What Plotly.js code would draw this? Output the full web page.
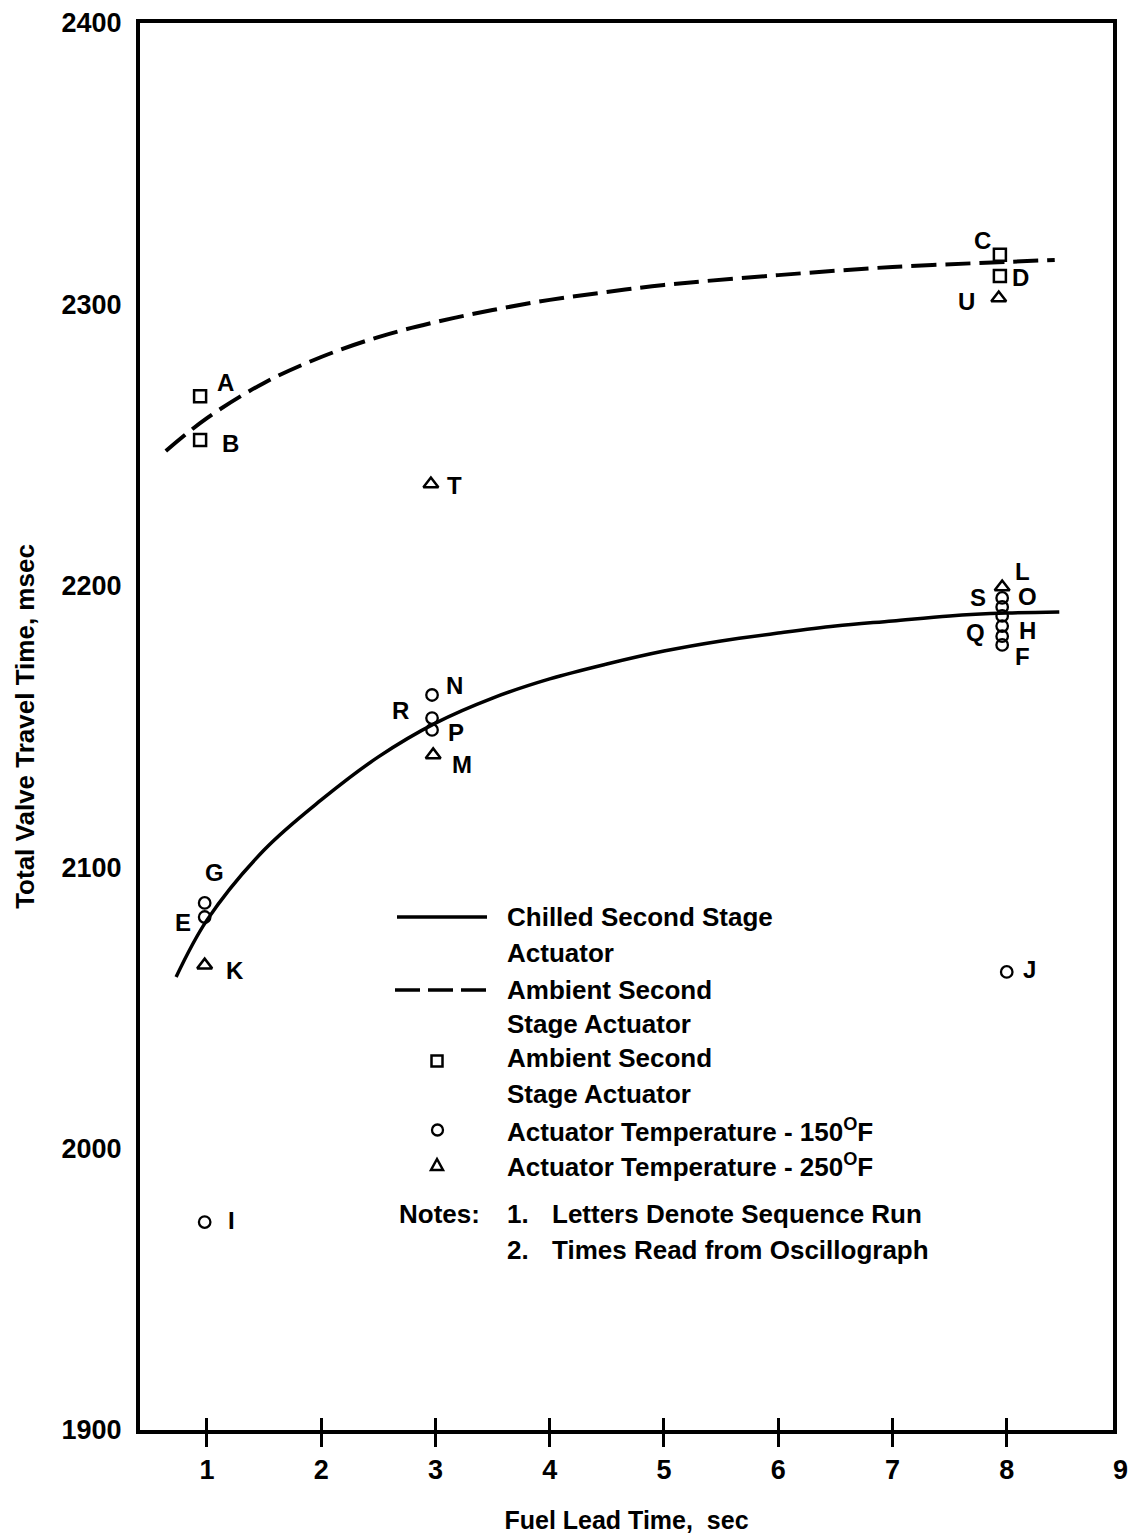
<!DOCTYPE html>
<html>
<head>
<meta charset="utf-8">
<script src="https://cdn.plot.ly/plotly-3.0.1.min.js"></script>
<style>
html,body{margin:0;padding:0;background:#fff;}
#chart{width:1129px;height:1538px;}
</style>
</head>
<body>
<div id="chart"></div>
<script>
// ---------------- data ----------------
const xTickVals = [1, 2, 3, 4, 5, 6, 7, 8];
const xTickText = ['1', '2', '3', '4', '5', '6', '7', '8'];
const yTickVals = [1900, 2000, 2100, 2200, 2300, 2400];
const yTickText = ['1900', '2000', '2100', '2200', '2300', '2400'];

// faired curves
const chilledX = [0.73, 1.0, 1.5, 2.0, 2.5, 3.0, 3.5, 4.0, 4.5, 5.0, 5.5, 6.0, 6.5, 7.0, 7.5, 8.0, 8.46];
const chilledY = [2061.0, 2081.2, 2106.1, 2123.9, 2139.2, 2151.2, 2160.1, 2166.9, 2172.2, 2176.8, 2180.4, 2183.2, 2185.7, 2187.5, 2189.3, 2190.3, 2190.7];
const ambientX = [0.64, 1.0, 1.5, 2.0, 2.5, 3.0, 3.5, 4.0, 4.5, 5.0, 6.0, 7.0, 8.0, 8.42];
const ambientY = [2247.9, 2259.6, 2272.1, 2281.3, 2288.4, 2293.7, 2298.0, 2301.6, 2304.4, 2306.9, 2310.4, 2313.3, 2315.1, 2315.8];

// ambient second stage actuator (squares)
const squareX = [0.94, 0.94, 7.94, 7.94];
const squareY = [2267.4, 2251.8, 2317.6, 2310.1];
const squareLabels = ['A', 'B', 'C', 'D'];

// actuator temperature 250 F (triangles)
const triangleX = [2.96, 7.93, 7.96, 2.98, 0.98];
const triangleY = [2236.2, 2302.3, 2199.6, 2139.9, 2065.2];
const triangleLabels = ['T', 'U', 'L', 'M', 'K'];

// actuator temperature 150 F (circles)
const circleX = [2.97, 2.97, 2.97, 0.98, 0.98, 0.98, 8.0, 7.96, 7.96, 7.96, 7.96, 7.96, 7.96];
const circleY = [2161.2, 2153.0, 2148.8, 2087.3, 2082.3, 1973.9, 2062.8, 2195.7, 2192.5, 2189.3, 2185.7, 2182.1, 2179.0];
const circleLabels = ['N', 'R', 'P', 'G', 'E', 'I', 'J', 'S', 'O', '', 'H', 'Q', 'F'];

// legend / notes text
const legendLines = ['Chilled Second Stage', 'Actuator', 'Ambient Second', 'Stage Actuator', 'Ambient Second', 'Stage Actuator',
  'Actuator Temperature - 150<sup>O</sup>F', 'Actuator Temperature - 250<sup>O</sup>F'];
const notesHead = 'Notes:';
const noteNumbers = ['1.', '2.'];
const noteTexts = ['Letters Denote Sequence Run', 'Times Read from Oscillograph'];

// ---------------- style ----------------
const FONT = 'Liberation Sans, Arial, sans-serif';
const INK = '#000';
// pixel offsets of the run letters from their points (dx right, dy down)
const labelOffset = {
  A: [25, -14], B: [30, 3], C: [-17, -14], D: [21, 2],
  T: [24, 2], U: [-32, 4], L: [20, -15], M: [29, 10], K: [30, 5],
  N: [22, -9], R: [-32, -8], P: [24, 3], G: [10, -30], E: [-22, 5],
  I: [27, -2], J: [23, -2], S: [-24, 0], O: [25, -10], H: [25, 4], Q: [-27, -4], F: [20, 12]
};
const plotBox = {l: 140, r: 1113, t: 23, b: 1430};
const xRange = [0.414, 8.93];
const legendTextY = [917, 953, 990, 1024, 1058, 1094, 1130, 1165];
const notesY = [1214, 1250];

function pxX(p) { return (p - plotBox.l) / (plotBox.r - plotBox.l); }
function pxY(p) { return 1 - (p - plotBox.t) / (plotBox.b - plotBox.t); }

const traces = [
  {x: chilledX, y: chilledY, mode: 'lines', line: {color: INK, width: 3.5, shape: 'spline', smoothing: 1}, hoverinfo: 'skip'},
  {x: ambientX, y: ambientY, mode: 'lines', line: {color: INK, width: 4, dash: '25px,9px', shape: 'spline', smoothing: 1}, hoverinfo: 'skip'},
  {x: squareX, y: squareY, xaxis: 'x2', mode: 'markers', marker: {symbol: 'square-open', size: 12, color: INK, line: {width: 2.5, color: INK}}},
  {x: triangleX, y: triangleY, mode: 'markers', marker: {symbol: 'triangle-up-open', size: 13, color: INK, line: {width: 2.5, color: INK}}},
  {x: circleX, y: circleY, mode: 'markers', marker: {symbol: 'circle-open', size: 11.5, color: INK, line: {width: 2.3, color: INK}}}
];

const annotations = [];
function addLabels(xs, ys, labels) {
  for (let i = 0; i < xs.length; i++) {
    const lbl = labels[i];
    if (!lbl) continue;
    const off = labelOffset[lbl] || [20, 0];
    annotations.push({
      x: xs[i], y: ys[i], xref: 'x', yref: 'y', text: lbl, showarrow: false,
      xanchor: 'center', yanchor: 'middle', xshift: off[0], yshift: -off[1],
      font: {family: FONT, size: 24, weight: 'bold', color: INK}
    });
  }
}
addLabels(squareX, squareY, squareLabels);
addLabels(triangleX, triangleY, triangleLabels);
addLabels(circleX, circleY, circleLabels);

const legendFont = {family: FONT, size: 26, weight: 'bold', color: INK};
legendLines.forEach((t, i) => {
  annotations.push({x: pxX(505), y: pxY(legendTextY[i]), xref: 'paper', yref: 'paper', text: t, showarrow: false,
    xanchor: 'left', yanchor: 'middle', font: legendFont});
});
annotations.push({x: pxX(397), y: pxY(notesY[0]), xref: 'paper', yref: 'paper', text: notesHead, showarrow: false,
  xanchor: 'left', yanchor: 'middle', font: legendFont});
noteNumbers.forEach((t, i) => {
  annotations.push({x: pxX(505), y: pxY(notesY[i]), xref: 'paper', yref: 'paper', text: t, showarrow: false,
    xanchor: 'left', yanchor: 'middle', font: legendFont});
  annotations.push({x: pxX(550), y: pxY(notesY[i]), xref: 'paper', yref: 'paper', text: noteTexts[i], showarrow: false,
    xanchor: 'left', yanchor: 'middle', font: legendFont});
});
// the "9" tick label sits at the right frame edge, just past the range
annotations.push({x: (9 - xRange[0]) / (xRange[1] - xRange[0]), y: 0, xref: 'paper', yref: 'paper', text: '9', showarrow: false,
  xanchor: 'center', yanchor: 'top', yshift: -23, font: {family: FONT, size: 27, weight: 'bold', color: INK}});

// legend keys
const shapes = [
  {type: 'line', xref: 'paper', yref: 'paper', x0: pxX(397), x1: pxX(487), y0: pxY(917), y1: pxY(917), line: {color: INK, width: 3.5}},
  {type: 'line', xref: 'paper', yref: 'paper', x0: pxX(395), x1: pxX(487), y0: pxY(990), y1: pxY(990), line: {color: INK, width: 3.5, dash: '25px,8px'}},
  {type: 'rect', xref: 'paper', yref: 'paper', x0: pxX(431.5), x1: pxX(442.5), y0: pxY(1055.5), y1: pxY(1066.5), line: {color: INK, width: 2.5}},
  {type: 'circle', xref: 'paper', yref: 'paper', x0: pxX(432), x1: pxX(443), y0: pxY(1124.5), y1: pxY(1135.5), line: {color: INK, width: 2.3}},
  {type: 'path', xref: 'paper', yref: 'paper',
    path: 'M' + pxX(431) + ',' + pxY(1170) + ' L' + pxX(443) + ',' + pxY(1170) + ' L' + pxX(437) + ',' + pxY(1159) + ' Z',
    line: {color: INK, width: 2.5}}
];

const layout = {
  width: 1129, height: 1538,
  margin: {l: plotBox.l, r: 1129 - plotBox.r, t: plotBox.t, b: 1538 - plotBox.b, pad: 0},
  paper_bgcolor: '#fff', plot_bgcolor: '#fff',
  showlegend: false,
  font: {family: FONT, color: INK},
  xaxis: {
    range: xRange, tickmode: 'array', tickvals: xTickVals, ticktext: xTickText,
    ticks: 'outside', ticklen: 13, tickwidth: 3, tickcolor: INK,
    showline: true, linewidth: 4, linecolor: INK, mirror: true,
    showgrid: false, zeroline: false,
    tickfont: {family: FONT, size: 27, weight: 'bold', color: INK},
    title: {text: 'Fuel Lead Time,  sec', font: {family: FONT, size: 25, weight: 'bold', color: INK}, standoff: 28}
  },
  xaxis2: {
    range: xRange, overlaying: 'x', anchor: 'y', side: 'bottom', tickmode: 'array', tickvals: xTickVals,
    ticks: 'inside', ticklen: 12, tickwidth: 3, tickcolor: INK,
    showticklabels: false, showline: false, showgrid: false, zeroline: false
  },
  yaxis: {
    range: [1900, 2400], tickmode: 'array', tickvals: yTickVals, ticktext: yTickText,
    ticks: '', showline: true, linewidth: 4, linecolor: INK, mirror: true,
    showgrid: false, zeroline: false, ticklabelstandoff: 9,
    tickfont: {family: FONT, size: 27, weight: 'bold', color: INK},
    title: {text: 'Total Valve Travel Time, msec', font: {family: FONT, size: 26, weight: 'bold', color: INK}, standoff: 20}
  },
  annotations: annotations,
  shapes: shapes
};

Plotly.newPlot('chart', traces, layout, {staticPlot: true, displayModeBar: false});
</script>
</body>
</html>
